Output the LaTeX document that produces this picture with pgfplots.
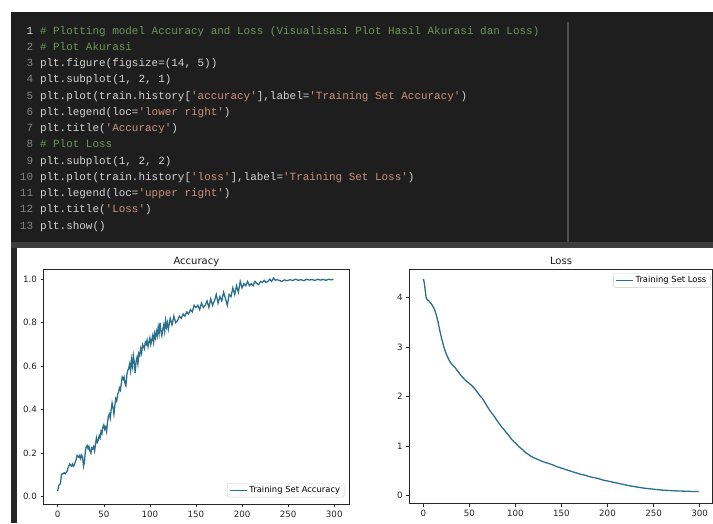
\documentclass[border=0pt]{standalone}
\usepackage{fontspec}
\setmainfont{DejaVu Sans}
\newfontfamily\codefont{Liberation Mono}[Ligatures=TeXOff]
\usepackage{pgfplots}
\usepackage{pgfplotstable}
\pgfplotsset{compat=1.18}
\definecolor{codebg}{HTML}{1E1E1E}
\definecolor{cmt}{HTML}{6A9955}
\definecolor{txt}{HTML}{D4D4D4}
\definecolor{str}{HTML}{CE9178}
\definecolor{lno}{HTML}{858585}
\definecolor{mpl}{HTML}{2A6F8C}

\pgfplotstableread{
ep acc
0 0.025
1 0.05
2 0.055
3 0.06
4 0.10
5 0.105
6 0.105
7 0.11
8 0.105
9 0.11
10 0.115
11 0.13
12 0.14
13 0.15
14 0.145
15 0.14
16 0.15
17 0.14
18 0.145
19 0.16
20 0.17
21 0.19
22 0.185
23 0.18
24 0.19
25 0.175
26 0.19
27 0.18
28 0.14
29 0.16
30 0.21
31 0.23
32 0.235
33 0.22
34 0.23
35 0.21
36 0.20
37 0.225
38 0.22
39 0.23
40 0.21
41 0.24
42 0.27
43 0.25
44 0.26
45 0.28
46 0.27
47 0.30
48 0.29
49 0.32
50 0.33
51 0.31
52 0.32
53 0.30
54 0.34
55 0.37
56 0.38
57 0.36
58 0.40
59 0.43
60 0.41
61 0.38
62 0.42
63 0.45
64 0.44
65 0.47
66 0.48
67 0.50
68 0.49
69 0.52
70 0.55
71 0.54
72 0.55
73 0.52
74 0.51
75 0.56
76 0.58
77 0.59
78 0.61
79 0.58
80 0.63
81 0.60
82 0.65
83 0.62
84 0.57
85 0.62
86 0.64
87 0.61
88 0.66
89 0.65
90 0.68
91 0.66
92 0.70
93 0.69
94 0.68
95 0.71
96 0.70
97 0.72
98 0.69
99 0.71
100 0.73
101 0.70
102 0.72
103 0.74
104 0.71
105 0.75
106 0.73
107 0.76
108 0.74
109 0.78
110 0.75
111 0.80
112 0.76
113 0.74
114 0.77
115 0.79
116 0.76
117 0.81
118 0.78
119 0.80
120 0.77
122 0.82
124 0.79
126 0.83
128 0.80
130 0.81
132 0.83
134 0.82
136 0.84
138 0.83
140 0.85
142 0.84
144 0.86
146 0.85
148 0.88
150 0.87
152 0.88
154 0.86
156 0.89
158 0.87
160 0.88
162 0.90
164 0.87
166 0.91
168 0.88
170 0.90
172 0.93
174 0.89
176 0.92
178 0.90
180 0.94
182 0.91
184 0.88
186 0.93
188 0.92
190 0.96
192 0.93
194 0.97
196 0.94
198 0.99
200 0.96
202 0.98
204 0.97
206 0.99
208 0.97
210 0.98
212 0.97
214 0.99
216 0.98
218 0.975
220 0.99
222 0.985
224 0.995
226 0.985
228 0.99
230 1.0
232 0.99
234 1.005
236 0.995
238 0.998
240 0.995
243 0.99
246 0.997
249 0.993
252 0.998
255 0.994
258 1.0
261 0.995
264 0.998
267 0.993
270 1.0
273 0.996
276 0.999
279 0.994
282 1.0
285 0.996
288 0.999
291 0.995
294 1.0
297 0.997
299 1.0
}\acctable

\pgfplotstableread{
ep loss
0 4.37
1 4.30
2 4.15
3 4.00
4 3.96
5 3.94
6 3.93
7 3.90
8 3.88
9 3.86
10 3.83
11 3.80
12 3.76
13 3.71
14 3.65
15 3.58
16 3.50
17 3.41
18 3.32
19 3.24
20 3.16
21 3.09
22 3.02
23 2.96
24 2.90
25 2.85
26 2.81
27 2.77
28 2.73
29 2.70
30 2.67
31 2.65
32 2.63
33 2.61
34 2.59
35 2.57
36 2.54
37 2.52
38 2.49
39 2.47
40 2.44
42 2.40
44 2.36
46 2.32
48 2.29
50 2.26
52 2.23
54 2.19
56 2.15
58 2.10
60 2.05
62 2.00
64 1.96
66 1.90
68 1.84
70 1.78
72 1.72
74 1.67
76 1.62
78 1.57
80 1.51
82 1.46
84 1.41
86 1.36
88 1.32
90 1.27
92 1.23
94 1.18
96 1.13
98 1.09
100 1.06
102 1.02
104 0.98
106 0.95
108 0.92
110 0.88
112 0.85
114 0.83
116 0.80
118 0.78
120 0.76
125 0.72
130 0.68
135 0.65
140 0.62
145 0.58
150 0.55
155 0.52
160 0.49
165 0.46
170 0.43
175 0.41
180 0.38
185 0.36
190 0.34
195 0.31
200 0.29
205 0.27
210 0.25
215 0.23
220 0.21
225 0.19
230 0.175
235 0.16
240 0.145
245 0.135
250 0.125
255 0.115
260 0.105
265 0.10
270 0.095
275 0.09
280 0.087
285 0.084
290 0.08
295 0.078
299 0.076
}\losstable

\pgfplotsset{mplstyle/.style={
  scale only axis,
  axis line style={black!85, line width=0.6pt},
  tick align=outside, xtick pos=bottom, ytick pos=left,
  major tick length=3.2pt,
  tick style={black!85, line width=0.6pt},
  tick label style={font=\fontsize{8.7}{9}\selectfont, text=black!85},
  /pgf/number format/assume math mode=true,
  title style={font=\fontsize{10}{12}\selectfont, text=black!90, at={(0.5,1)}, anchor=base, yshift=-1pt},
  legend image code/.code={\draw[##1] (0pt,0pt) -- (17pt,0pt);},
  legend style={draw=black!20, rounded corners=2pt,
    font=\fontsize{8.4}{9}\selectfont, inner xsep=2pt, inner ysep=1pt},
  legend cell align=left,
  xtick={0,50,100,150,200,250,300},
}}

\newcommand{\cfont}{\codefont\fontsize{10.95}{13}\selectfont}
\newcommand{\cl}[3]{%
  \node[anchor=base east, inner sep=0, text=lno, font=\cfont] at (33.3pt,{(488.8-(#1-1)*16.25)*1pt}) {#2};
  \node[anchor=base west, inner sep=0, text=txt, font=\cfont] at (39.8pt,{(488.8-(#1-1)*16.25)*1pt}) {#3};}
\newcommand{\s}[1]{\textcolor{str}{'#1'}}

\begin{document}
\begin{tikzpicture}
\useasboundingbox (0,0) rectangle (713pt,523pt);
\fill[white] (0,0) rectangle (713pt,523pt);
% code panel
\fill[codebg] (11pt,281pt) rectangle (713pt,511pt);
\fill[black!76] (11pt,275pt) rectangle (713pt,281pt);
\draw[black!70, line width=1.2pt] (568pt,501pt) -- (568pt,281pt);
\fill[black!85] (11pt,0pt) rectangle (17pt,275pt);

\cl{1}{\textcolor{black!15}{1}}{\textcolor{cmt}{\# Plotting model Accuracy and Loss (Visualisasi Plot Hasil Akurasi dan Loss)}}
\cl{2}{2}{\textcolor{cmt}{\# Plot Akurasi}}
\cl{3}{3}{plt.figure(figsize=(14, 5))}
\cl{4}{4}{plt.subplot(1, 2, 1)}
\cl{5}{5}{plt.plot(train.history[\s{accuracy}],label=\s{Training Set Accuracy})}
\cl{6}{6}{plt.legend(loc=\s{lower right})}
\cl{7}{7}{plt.title(\s{Accuracy})}
\cl{8}{8}{\textcolor{cmt}{\# Plot Loss}}
\cl{9}{9}{plt.subplot(1, 2, 2)}
\cl{10}{10}{plt.plot(train.history[\s{loss}],label=\s{Training Set Loss})}
\cl{11}{11}{plt.legend(loc=\s{upper right})}
\cl{12}{12}{plt.title(\s{Loss})}
\cl{13}{13}{plt.show()}

\begin{axis}[mplstyle,
  at={(43.7pt,19pt)}, anchor=south west,
  width=305.3pt, height=235pt,
  xmin=-15.2, xmax=316, ymin=-0.034, ymax=1.047,
  ytick={0,0.2,0.4,0.6,0.8,1.0},
  yticklabel style={/pgf/number format/.cd, fixed, fixed zerofill, precision=1},
  title={Accuracy},
  legend style={at={(1,0)}, anchor=south east, xshift=-4.7pt, yshift=6.7pt},
]
\addplot[mpl, line width=1.3pt] table[x=ep, y=acc] {\acctable};
\addlegendentry{Training Set Accuracy}
\end{axis}

\begin{axis}[mplstyle,
  at={(409.5pt,19.7pt)}, anchor=south west,
  width=303pt, height=234pt,
  xmin=-15, xmax=314, ymin=-0.16, ymax=4.566,
  ytick={0,1,2,3,4},
  title={Loss},
  legend style={at={(1,1)}, anchor=north east, xshift=-2pt, yshift=-4pt},
]
\addplot[mpl, line width=1.3pt] table[x=ep, y=loss] {\losstable};
\addlegendentry{Training Set Loss}
\end{axis}
\end{tikzpicture}
\end{document}
